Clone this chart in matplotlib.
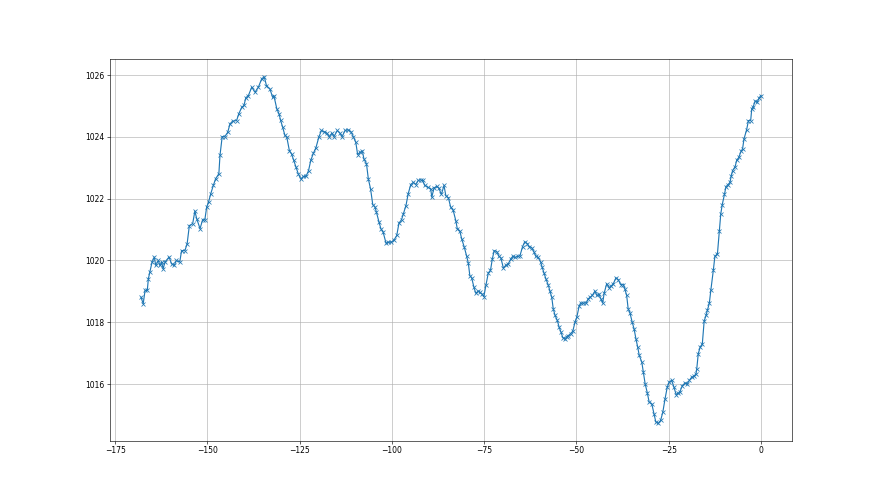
import matplotlib
matplotlib.use("Agg")
import matplotlib.pyplot as plt

hours = [
    -168.0, -167.4, -166.9, -166.3, -166.0, -165.6, -165.0, -164.4, -164.0, -163.3,
    -162.9, -162.4, -162.0, -161.5, -160.4, -159.7, -159.0, -158.4, -157.5, -157.0,
    -156.1, -155.5, -154.9, -154.0, -153.4, -152.9, -152.0, -151.3, -150.7, -150.2,
    -149.7, -149.1, -148.4, -147.8, -146.9, -146.6, -146.0, -145.3, -144.5, -143.9,
    -143.2, -142.1, -141.5, -140.7, -140.1, -139.6, -138.9, -138.0, -137.1, -136.2,
    -135.3, -134.6, -134.0, -133.1, -132.3, -132.0, -131.2, -130.6, -130.2, -129.6,
    -129.0, -128.5, -127.8, -127.2, -126.6, -126.0, -125.4, -124.7, -124.0, -123.3,
    -122.6, -122.0, -121.3, -120.6, -119.8, -119.1, -118.3, -117.7, -117.0, -116.3,
    -115.7, -114.8, -114.1, -113.5, -112.7, -111.8, -111.1, -110.5, -109.8, -109.3,
    -108.7, -108.0, -107.6, -106.9, -106.4, -105.8, -105.2, -104.6, -104.2, -103.5,
    -103.0, -102.4, -101.6, -101.0, -100.3, -99.5, -98.7, -98.1, -97.4, -96.9,
    -96.2, -95.6, -94.9, -94.2, -93.5, -92.9, -92.2, -91.7, -91.1, -90.3,
    -89.5, -89.2, -88.6, -87.9, -87.3, -86.6, -85.9, -85.4, -84.7, -84.1,
    -83.4, -82.7, -82.3, -81.6, -81.1, -80.4, -79.8, -79.3, -78.9, -78.4,
    -77.8, -77.3, -76.6, -76.2, -75.5, -75.1, -74.5, -73.9, -73.3, -72.8,
    -72.3, -71.6, -71.0, -70.5, -69.8, -69.2, -68.5, -67.8, -67.3, -66.7,
    -65.9, -65.3, -64.6, -64.0, -63.3, -62.8, -62.1, -61.5, -61.0, -60.4,
    -59.7, -59.3, -58.8, -58.3, -57.6, -57.2, -56.7, -56.3, -55.8, -55.2,
    -54.7, -54.2, -53.7, -53.1, -52.7, -52.2, -51.6, -51.0, -50.4, -49.9,
    -49.3, -48.9, -48.2, -47.4, -46.8, -46.3, -45.7, -45.0, -44.5, -43.9,
    -43.4, -42.9, -42.5, -41.8, -41.2, -40.7, -40.0, -39.3, -38.7, -38.0,
    -37.3, -36.9, -36.4, -36.0, -35.5, -34.9, -34.4, -33.9, -33.4, -33.0,
    -32.3, -31.9, -31.4, -30.8, -30.3, -29.6, -29.0, -28.5, -27.8, -27.2,
    -26.6, -26.0, -25.4, -24.9, -24.2, -23.6, -23.0, -22.4, -22.0, -21.3,
    -20.6, -20.0, -19.4, -18.8, -18.2, -17.6, -17.4, -17.0, -16.5, -15.9,
    -15.4, -14.9, -14.5, -14.0, -13.6, -12.9, -12.5, -11.8, -11.3, -10.9,
    -10.5, -9.9, -9.5, -8.9, -8.4, -8.1, -7.7, -7.0, -6.6, -6.0,
    -5.4, -5.0, -4.6, -3.9, -3.4, -2.8, -2.5, -2.1, -1.6, -1.0,
    -0.5, 0.0,
]

pressure = [
    1018.81, 1018.60, 1019.03, 1019.03, 1019.41, 1019.62, 1019.95, 1020.11, 1019.84, 1020.00,
    1019.84, 1019.95, 1019.73, 1019.95, 1020.11, 1019.89, 1019.84, 1020.00, 1019.95, 1020.32,
    1020.32, 1020.54, 1021.13, 1021.19, 1021.60, 1021.35, 1021.03, 1021.32, 1021.32, 1021.73,
    1021.89, 1022.16, 1022.43, 1022.64, 1022.81, 1023.40, 1024.01, 1024.01, 1024.15, 1024.42,
    1024.51, 1024.53, 1024.75, 1024.96, 1025.02, 1025.27, 1025.34, 1025.61, 1025.45, 1025.61,
    1025.88, 1025.95, 1025.66, 1025.56, 1025.28, 1025.34, 1024.91, 1024.75, 1024.55, 1024.31,
    1024.05, 1024.00, 1023.56, 1023.45, 1023.24, 1023.02, 1022.81, 1022.64, 1022.72, 1022.72,
    1022.91, 1023.24, 1023.47, 1023.65, 1024.00, 1024.21, 1024.17, 1024.12, 1024.01, 1024.12,
    1024.01, 1024.21, 1024.12, 1024.01, 1024.21, 1024.23, 1024.17, 1024.01, 1023.83, 1023.43,
    1023.50, 1023.54, 1023.29, 1023.13, 1022.64, 1022.32, 1021.81, 1021.73, 1021.56, 1021.24,
    1021.03, 1020.92, 1020.56, 1020.59, 1020.59, 1020.65, 1020.81, 1021.21, 1021.32, 1021.51,
    1021.78, 1022.16, 1022.46, 1022.53, 1022.46, 1022.59, 1022.61, 1022.59, 1022.43, 1022.37,
    1022.32, 1022.05, 1022.35, 1022.40, 1022.34, 1022.14, 1022.43, 1022.10, 1022.03, 1021.73,
    1021.62, 1021.29, 1021.03, 1020.95, 1020.70, 1020.43, 1020.16, 1019.91, 1019.51, 1019.44,
    1019.14, 1018.94, 1019.01, 1018.97, 1018.90, 1018.83, 1019.22, 1019.59, 1019.68, 1020.05,
    1020.32, 1020.29, 1020.13, 1020.09, 1019.75, 1019.84, 1019.89, 1020.05, 1020.13, 1020.10,
    1020.13, 1020.16, 1020.45, 1020.61, 1020.54, 1020.45, 1020.41, 1020.27, 1020.13, 1020.10,
    1019.95, 1019.78, 1019.59, 1019.41, 1019.19, 1019.01, 1018.81, 1018.44, 1018.22, 1018.06,
    1017.84, 1017.68, 1017.50, 1017.47, 1017.52, 1017.57, 1017.63, 1017.71, 1018.00, 1018.17,
    1018.51, 1018.62, 1018.62, 1018.62, 1018.76, 1018.81, 1018.87, 1019.01, 1018.87, 1018.90,
    1018.76, 1018.62, 1018.94, 1019.25, 1019.12, 1019.16, 1019.25, 1019.44, 1019.38, 1019.22,
    1019.22, 1019.08, 1018.87, 1018.44, 1018.30, 1018.00, 1017.79, 1017.47, 1017.19, 1016.93,
    1016.71, 1016.39, 1016.01, 1015.71, 1015.41, 1015.36, 1015.04, 1014.77, 1014.73, 1014.82,
    1015.09, 1015.52, 1015.90, 1016.06, 1016.12, 1015.90, 1015.66, 1015.71, 1015.74, 1015.95,
    1016.03, 1016.01, 1016.12, 1016.22, 1016.25, 1016.33, 1016.50, 1016.98, 1017.19, 1017.30,
    1018.04, 1018.22, 1018.40, 1018.62, 1019.03, 1019.70, 1020.13, 1020.22, 1020.95, 1021.51,
    1021.81, 1022.14, 1022.39, 1022.46, 1022.53, 1022.72, 1022.91, 1023.04, 1023.24, 1023.34,
    1023.54, 1023.61, 1023.94, 1024.23, 1024.53, 1024.53, 1024.91, 1024.98, 1025.16, 1025.13,
    1025.27, 1025.34,
]

fig, ax = plt.subplots(figsize=(16, 9), dpi=55)
ax.plot(hours, pressure, marker="x", color="#1f77b4")
ax.grid(True)
fig.savefig("out.png", dpi=55)
